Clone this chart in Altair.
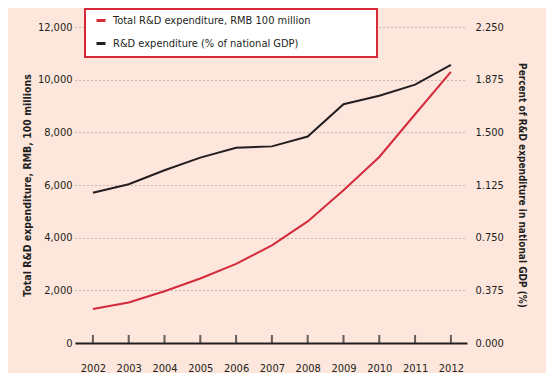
import altair as alt
import pandas as pd

years = [2002, 2003, 2004, 2005, 2006, 2007, 2008, 2009, 2010, 2011, 2012]
total_rd = [1288, 1540, 1966, 2450, 3003, 3710, 4616, 5802, 7063, 8687, 10298]
pct_gdp = [1.07, 1.13, 1.23, 1.32, 1.39, 1.40, 1.47, 1.70, 1.76, 1.84, 1.98]
left_ticks = [0, 2000, 4000, 6000, 8000, 10000, 12000]
right_ticks = [0.0, 0.375, 0.75, 1.125, 1.5, 1.875, 2.25]
series_names = ["Total R&D expenditure, RMB 100 million", "R&D expenditure (% of national GDP)"]

FONT = "'DejaVu Sans Condensed', 'Liberation Sans Narrow', 'Roboto Condensed', sans-serif"
RED = "#d42a3c"
BLACK = "#231f20"
BG = "#fde6dc"

df = pd.DataFrame({"year": years, "total": total_rd, "pct": pct_gdp})
df["s1"] = series_names[0]
df["s2"] = series_names[1]

xscale = alt.Scale(domain=[2001.5, 2012.45], nice=False, zero=False)
xaxis = alt.Axis(values=years, format="d", grid=False, ticks=False, domain=True,
                 domainColor=BLACK, domainWidth=2, labelFont=FONT, labelFontSize=11,
                 labelColor="#231f20", labelPadding=19, title=None)

color_scale = alt.Scale(domain=series_names, range=[RED, BLACK])
legend = alt.Legend(orient="none", legendX=20, legendY=-12.5, title=None, symbolType="stroke",
                    symbolStrokeWidth=3, symbolSize=81, labelFont=FONT, labelFontSize=11,
                    labelColor=BLACK, rowPadding=11, padding=0, labelOffset=6, labelLimit=500)

box = alt.Chart(pd.DataFrame({"a": [0]})).mark_rect(
    fill="white", stroke=RED, strokeWidth=2
).encode(x=alt.value(10), x2=alt.value(302), y=alt.value(-18), y2=alt.value(30))

left = alt.Chart(df).mark_line(strokeWidth=2).encode(
    x=alt.X("year:Q", scale=xscale, axis=xaxis),
    y=alt.Y("total:Q", scale=alt.Scale(domain=[0, 12000], nice=False),
            axis=alt.Axis(values=left_ticks, format=",.0f", grid=True, gridDash=[1, 3],
                          gridColor="#888888", gridWidth=1, ticks=False, domain=False,
                          labelFont=FONT, labelFontSize=11, labelColor=BLACK, labelPadding=3,
                          title="Total R&D expenditure, RMB, 100 millions",
                          titleFont=FONT, titleFontSize=10.5, titleFontWeight="bold",
                          titleColor=BLACK, titlePadding=5)),
    color=alt.Color("s1:N", scale=color_scale, legend=legend),
)

right = alt.Chart(df).mark_line(strokeWidth=2).encode(
    x=alt.X("year:Q", scale=xscale, axis=xaxis),
    y=alt.Y("pct:Q", scale=alt.Scale(domain=[0, 2.25], nice=False),
            axis=alt.Axis(orient="right", values=right_ticks, format=".3f", grid=False,
                          ticks=False, domain=False, labelFont=FONT, labelFontSize=11,
                          labelColor=BLACK, labelPadding=8,
                          title="Percent of R&D expenditure in national GDP (%)",
                          titleFont=FONT, titleFontSize=10, titleFontWeight="bold",
                          titleColor=BLACK, titleAngle=90, titlePadding=13)),
    color=alt.Color("s2:N", scale=color_scale, legend=legend),
)

ticks = alt.Chart(pd.DataFrame({"year": years, "z": [0] * len(years)})).mark_tick(
    orient="vertical", color=BLACK, thickness=2, size=8, yOffset=-4
).encode(
    x=alt.X("year:Q", scale=xscale, axis=xaxis),
    y=alt.Y("z:Q", scale=alt.Scale(domain=[0, 12000], nice=False), axis=None),
)

chart = alt.layer(box, left, ticks, right).resolve_scale(y="independent").properties(
    width=392, height=316,
    autosize=alt.AutoSizeParams(type="none"),
    padding={"left": 67, "top": 19, "right": 79, "bottom": 30},
    background=BG,
).configure_view(stroke=None)

chart.save("out.html", embed_options={"renderer": "svg", "actions": False})
